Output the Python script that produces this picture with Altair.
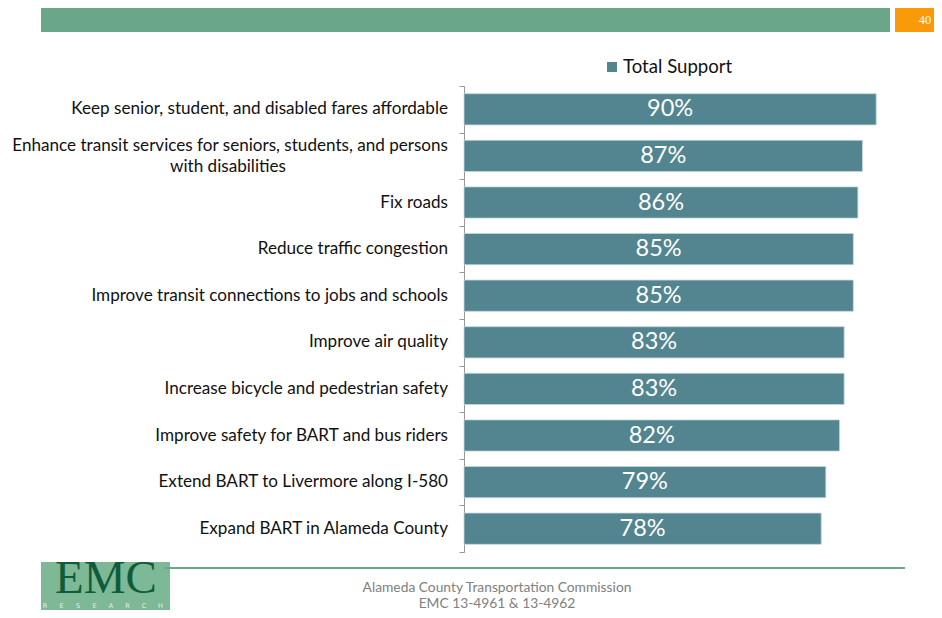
import altair as alt
import pandas as pd

categories = [
    "Keep senior, student, and disabled fares affordable",
    "Enhance transit services for seniors, students, and persons with disabilities",
    "Fix roads",
    "Reduce traffic congestion",
    "Improve transit connections to jobs and schools",
    "Improve air quality",
    "Increase bicycle and pedestrian safety",
    "Improve safety for BART and bus riders",
    "Extend BART to Livermore along I-580",
    "Expand BART in Alameda County",
]
support = [90, 87, 86, 85, 85, 83, 83, 82, 79, 78]
wrapped_category = categories[1]
wrapped_lines = ["Enhance transit services for seniors, students, and persons", "with disabilities"]
series_name = "Total Support"
page_number = "40"
footer_lines = ["Alameda County Transportation Commission", "EMC 13-4961 & 13-4962"]
logo_word = "EMC"
logo_letters = list("RESEARCH")

BAR = "#52858f"
GREEN = "#6aa688"
FONT = "Lato"
LABEL_SIZE = 17.1

df = pd.DataFrame({"category": categories, "support": support})
one = pd.DataFrame({"k": [0]})
letters_df = pd.DataFrame({"letter": logo_letters, "i": list(range(len(logo_letters)))})

y_enc = alt.Y(
    "category:N",
    sort=categories,
    scale=alt.Scale(paddingInner=0, paddingOuter=0),
    axis=alt.Axis(labels=False, title=None, tickBand="extent", tickSize=5,
                  domainColor="#999999", tickColor="#999999", grid=False),
)
x_scale = alt.Scale(domain=[0, 100])

base = alt.Chart(df)

bars = base.mark_bar(height={"band": 0.67}, color=BAR, stroke="#c3d6da", strokeWidth=0.8).encode(
    x=alt.X("support:Q", scale=x_scale, axis=None),
    y=y_enc,
)

bar_labels = base.transform_calculate(
    mid="datum.support / 2", pct="datum.support + '%'"
).mark_text(color="white", font=FONT, fontSize=23.5, baseline="middle", align="center").encode(
    x=alt.X("mid:Q", scale=x_scale, axis=None),
    y=alt.Y("category:N", sort=categories),
    text="pct:N",
)

cat_labels = base.transform_filter(
    alt.datum.category != wrapped_category
).mark_text(align="right", baseline="middle", font=FONT, fontSize=LABEL_SIZE, color="#111111").encode(
    x=alt.value(-16),
    y=alt.Y("category:N", sort=categories),
    text="category:N",
)

wrap1 = base.transform_filter(alt.datum.category == wrapped_category).mark_text(
    align="right", baseline="middle", font=FONT, fontSize=LABEL_SIZE, color="#111111", dy=-10
).encode(x=alt.value(-16), y=alt.Y("category:N", sort=categories), text=alt.value(wrapped_lines[0]))

wrap2 = base.transform_filter(alt.datum.category == wrapped_category).mark_text(
    align="center", baseline="middle", font=FONT, fontSize=LABEL_SIZE, color="#111111", dy=11
).encode(x=alt.value(-236), y=alt.Y("category:N", sort=categories), text=alt.value(wrapped_lines[1]))

deco = alt.Chart(one)

top_band = deco.mark_rect(color=GREEN).encode(
    x=alt.value(-423), x2=alt.value(426), y=alt.value(-78), y2=alt.value(-54))
page_box = deco.mark_rect(color="#fa9a08").encode(
    x=alt.value(431), x2=alt.value(480), y=alt.value(-78), y2=alt.value(-54))
page_txt = deco.mark_text(color="white", font="Liberation Sans Narrow", fontSize=12.5,
                          align="center", baseline="middle").encode(
    x=alt.value(461), y=alt.value(-66), text=alt.value(page_number))

legend_sq = deco.mark_rect(color=BAR).encode(
    x=alt.value(143), x2=alt.value(153), y=alt.value(-24), y2=alt.value(-14))
legend_txt = deco.mark_text(font=FONT, fontSize=18.6, align="left", baseline="middle", color="#111111").encode(
    x=alt.value(159), y=alt.value(-19), text=alt.value(series_name))

logo_bg = deco.mark_rect(color="#7db897").encode(
    x=alt.value(-423), x2=alt.value(-294), y=alt.value(476), y2=alt.value(530))
footer_line = deco.mark_rect(color=GREEN).encode(
    x=alt.value(-299), x2=alt.value(441), y=alt.value(481), y2=alt.value(483))
footer1 = deco.mark_text(font=FONT, fontSize=13.8, color="#808080", align="center", baseline="middle").encode(
    x=alt.value(33), y=alt.value(502), text=alt.value(footer_lines[0]))
footer2 = deco.mark_text(font=FONT, fontSize=13.8, color="#808080", align="center", baseline="middle").encode(
    x=alt.value(33), y=alt.value(517.5), text=alt.value(footer_lines[1]))

logo_txt = deco.mark_text(font="Liberation Serif", fontSize=47, color="#105c38", align="center",
                          baseline="alphabetic").encode(
    x=alt.value(-358), y=alt.value(507), text=alt.value(logo_word))
logo_sub_txt = alt.Chart(letters_df).transform_calculate(
    px="-419 + datum.i * 16.5"
).mark_text(font="DejaVu Sans", fontSize=6.5, color="#e3f0e8", align="center",
            baseline="alphabetic").encode(
    x=alt.X("px:Q", scale=None), y=alt.value(522.3), text="letter:N")

chart = alt.layer(
    top_band, page_box, page_txt, legend_sq, legend_txt,
    bars, bar_labels, cat_labels, wrap1, wrap2,
    logo_bg, footer_line, footer1, footer2, logo_txt, logo_sub_txt,
).properties(
    width=458,
    height=466,
    padding={"left": 456, "top": 78, "right": 12, "bottom": 58},
    autosize=alt.AutoSizeParams(type="none"),
).configure_view(stroke=None)

chart.save("out.html", embed_options={"renderer": "svg", "actions": False})
